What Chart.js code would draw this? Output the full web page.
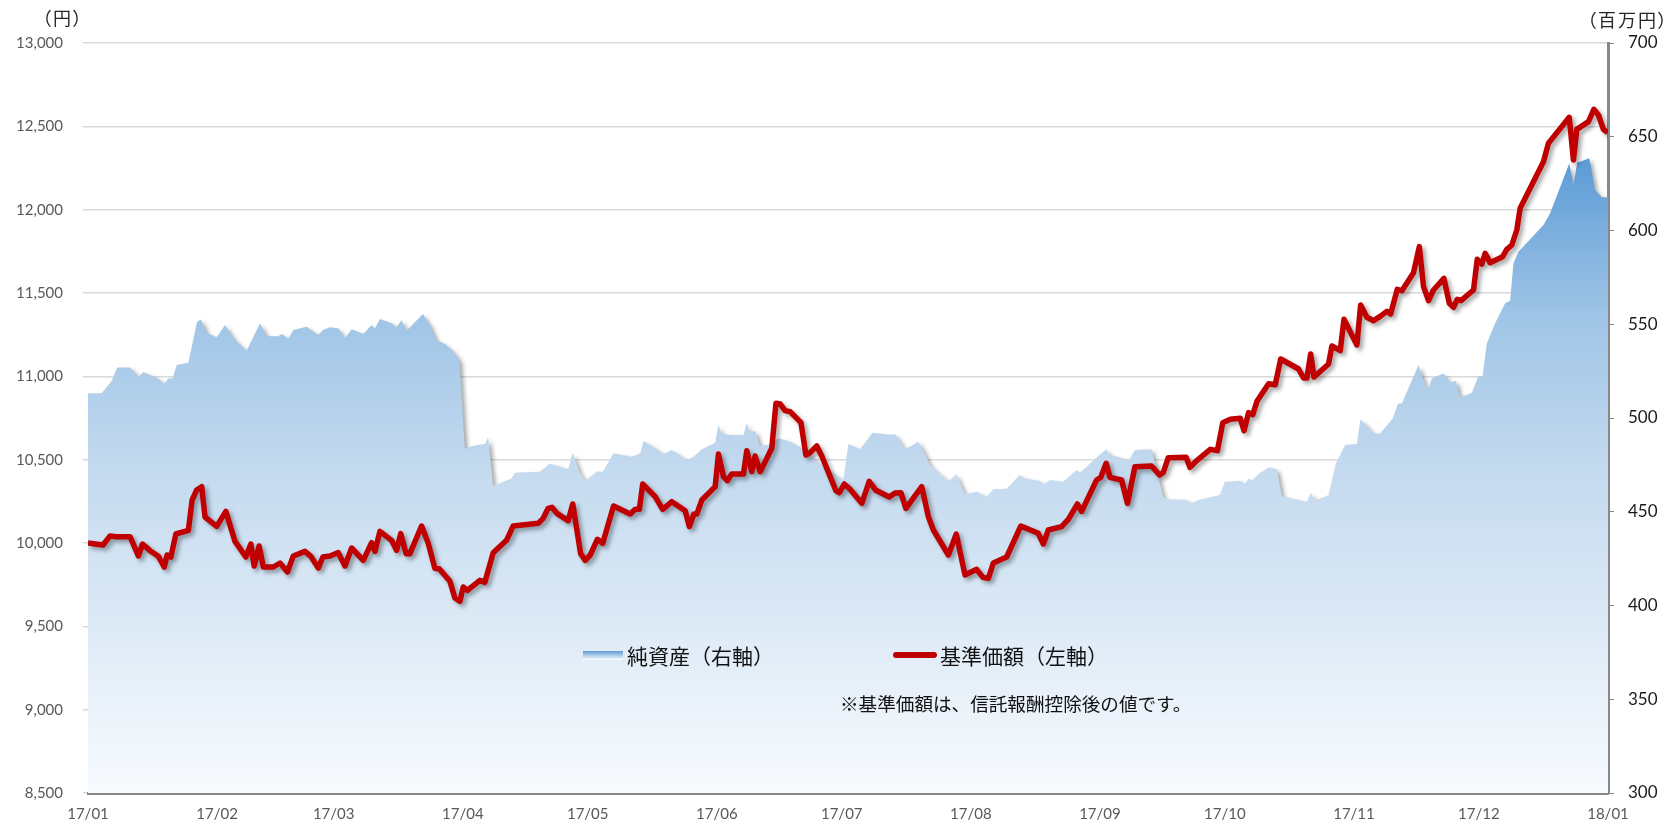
<!DOCTYPE html>
<html lang="ja">
<head>
<meta charset="utf-8">
<title>基準価額・純資産の推移</title>
<script src="https://cdn.jsdelivr.net/npm/chart.js@4.4.1/dist/chart.umd.min.js"></script>
<style>
  body { margin: 0; background: #ffffff; }
  #wrap { position: relative; width: 1676px; height: 826px; }
  .unit { position: absolute; white-space: nowrap; font-family: "Noto Sans CJK JP", sans-serif; color: #262626; font-size: 18px; letter-spacing: 2px; font-feature-settings: "palt"; }
  .legend { position: absolute; white-space: nowrap; font-family: "Noto Sans CJK JP", sans-serif; color: #111111; font-size: 21px; line-height: 24px; }
  .swatch { position: absolute; }
  .note { position: absolute; white-space: nowrap; font-family: "Noto Sans CJK JP", sans-serif; color: #111111; font-size: 18.6px; line-height: 24px; }
</style>
</head>
<body>
<div id="wrap">
  <canvas id="navChart"></canvas>
  <div class="unit" style="left:42px; top:4px;">（円）</div>
  <div class="unit" style="right:7px; top:6px;">（百万円）</div>
  <div class="swatch" style="left:583px; top:651px; width:40px; height:9px; background:linear-gradient(#5b9bd5, #ffffff);"></div>
  <div class="legend" style="left:627px; top:643px;">純資産（右軸）</div>
  <div class="swatch" style="left:893px; top:652px; width:44px; height:6px; background:#c00000; border-radius:3px;"></div>
  <div class="legend" style="left:940px; top:643px;">基準価額（左軸）</div>
  <div class="note" style="left:840px; top:691px;">※基準価額は、信託報酬控除後の値です。</div>
</div>
<script>
// month ticks, as days from 2017/01/01
const monthDays = [0, 31, 59, 90, 120, 151, 181, 212, 243, 273, 304, 334, 365];
const monthLabels = ["17/01", "17/02", "17/03", "17/04", "17/05", "17/06", "17/07", "17/08", "17/09", "17/10", "17/11", "17/12", "18/01"];

// 基準価額 (円, left axis)
const navDays = [0, 3.6, 5.3, 6.9, 10.1, 12.1, 13.1, 14.9, 16.9, 18.3,
  19.0, 19.9, 21.1, 24.1, 25.0, 26.1, 27.3, 28.1, 30.9, 33.1,
  35.3, 37.9, 39.1, 39.9, 41.1, 42.1, 44.5, 46.1, 47.9, 49.3,
  52.1, 53.5, 55.3, 56.4, 58.1, 60.1, 61.7, 63.3, 66.1, 68.1,
  68.9, 70.1, 72.9, 74.1, 75.1, 76.4, 77.3, 80.1, 81.7, 83.3,
  84.4, 86.9, 88.1, 89.3, 90.1, 91.1, 94.1, 95.3, 97.3, 100.5,
  102.1, 108.1, 109.3, 110.5, 111.4, 112.6, 115.3, 116.4, 118.3, 119.4,
  120.6, 122.3, 123.6, 126.2, 130.2, 131.4, 132.4, 133.2, 136.2, 138.0,
  140.2, 143.4, 144.4, 145.5, 146.2, 147.4, 150.6, 151.4, 152.6, 153.5,
  154.6, 157.4, 158.2, 159.4, 160.2, 161.4, 164.2, 165.2, 166.2, 167.4,
  168.6, 171.2, 172.4, 173.4, 175.0, 176.2, 179.6, 180.4, 181.6, 183.0,
  185.8, 187.6, 189.2, 192.4, 193.8, 195.2, 196.4, 200.2, 201.8, 203.0,
  206.6, 208.5, 210.6, 213.4, 214.9, 216.2, 217.4, 220.6, 224.0, 228.2,
  229.4, 230.6, 233.8, 235.4, 237.6, 238.6, 242.2, 243.2, 244.5, 245.4,
  248.2, 249.6, 251.4, 255.4, 257.3, 258.2, 259.4, 263.7, 264.6, 266.6,
  269.5, 271.2, 272.5, 274.3, 276.7, 277.6, 278.7, 279.7, 280.7, 283.5,
  285.1, 286.4, 290.7, 291.9, 292.7, 293.6, 294.4, 297.9, 298.7, 300.7,
  301.6, 304.7, 305.6, 307.1, 308.7, 310.3, 311.9, 312.8, 314.4, 315.5,
  318.3, 319.7, 320.7, 321.9, 323.1, 325.6, 326.9, 327.9, 328.8, 329.7,
  332.7, 333.6, 334.7, 335.5, 336.7, 339.7, 340.7, 341.9, 343.1, 343.9,
  349.5, 350.7, 355.7, 356.7, 357.5, 360.3, 361.6, 362.7, 363.9, 364.9];
const navValues = [10000, 9988, 10042, 10038, 10038, 9922, 9994, 9954, 9920, 9856,
  9928, 9916, 10054, 10076, 10258, 10318, 10338, 10156, 10100, 10190,
  10010, 9916, 9994, 9862, 9982, 9856, 9856, 9880, 9826, 9922,
  9950, 9920, 9850, 9916, 9922, 9942, 9862, 9970, 9896, 10002,
  9950, 10070, 10016, 9956, 10056, 9936, 9936, 10102, 9998, 9848,
  9844, 9770, 9670, 9650, 9736, 9716, 9776, 9764, 9942, 10016,
  10102, 10118, 10148, 10208, 10214, 10178, 10134, 10234, 9936, 9896,
  9928, 10022, 9998, 10222, 10174, 10202, 10202, 10354, 10278, 10202,
  10248, 10194, 10098, 10174, 10174, 10258, 10338, 10534, 10398, 10374,
  10414, 10414, 10554, 10428, 10522, 10428, 10568, 10838, 10834, 10794,
  10788, 10722, 10528, 10542, 10582, 10522, 10314, 10302, 10354, 10322,
  10238, 10370, 10316, 10276, 10300, 10302, 10208, 10338, 10158, 10078,
  9928, 10054, 9808, 9842, 9794, 9788, 9880, 9916, 10102, 10058,
  9994, 10078, 10098, 10142, 10234, 10190, 10378, 10394, 10478, 10394,
  10378, 10238, 10458, 10462, 10408, 10422, 10512, 10514, 10454, 10502,
  10562, 10554, 10722, 10742, 10748, 10674, 10782, 10770, 10850, 10956,
  10950, 11104, 11044, 10990, 10990, 11134, 10996, 11074, 11182, 11154,
  11342, 11188, 11428, 11354, 11334, 11360, 11390, 11374, 11522, 11514,
  11622, 11778, 11538, 11454, 11518, 11588, 11438, 11414, 11462, 11454,
  11518, 11702, 11674, 11738, 11682, 11718, 11762, 11788, 11878, 12008,
  12288, 12398, 12554, 12298, 12482, 12528, 12602, 12568, 12482, 12462];

// 純資産 (百万円, right axis)
const assetDays = [0, 3.3, 5.7, 7.0, 10.1, 12.1, 13.3, 16.9, 18.3, 19.3,
  20.3, 21.3, 24.1, 26.2, 27.1, 28.5, 30.9, 32.9, 35.3, 38.1,
  41.3, 42.9, 45.7, 46.5, 48.1, 49.3, 52.5, 55.3, 56.4, 58.1,
  60.1, 61.7, 63.3, 66.1, 68.1, 68.9, 70.1, 72.9, 74.1, 75.3,
  76.5, 80.4, 82.1, 83.6, 85.7, 87.6, 89.2, 90.5, 93.3, 95.3,
  96.1, 97.3, 99.7, 101.7, 102.5, 108.5, 110.9, 115.3, 116.4, 118.0,
  119.4, 122.2, 123.6, 126.2, 130.6, 132.6, 133.4, 136.6, 138.2, 140.2,
  143.8, 145.4, 147.4, 150.6, 151.4, 152.2, 154.6, 157.4, 158.2, 159.0,
  160.2, 161.4, 163.8, 165.8, 168.6, 171.0, 173.4, 176.5, 181.4, 182.6,
  185.4, 188.4, 193.0, 193.8, 196.2, 199.4, 200.6, 202.2, 206.6, 208.5,
  210.6, 213.4, 215.8, 217.4, 220.6, 223.7, 225.0, 228.2, 229.8, 230.9,
  234.2, 237.4, 238.2, 242.2, 244.5, 245.4, 247.8, 249.8, 251.4, 255.4,
  258.2, 259.4, 263.4, 265.0, 266.6, 271.8, 273.0, 276.7, 277.9, 278.7,
  279.5, 281.1, 283.5, 285.5, 286.7, 290.7, 292.7, 293.6, 294.7, 297.9,
  299.7, 301.9, 304.7, 305.6, 308.7, 310.3, 313.3, 314.6, 315.5, 319.5,
  320.7, 321.9, 322.7, 325.5, 327.1, 328.5, 329.5, 332.3, 333.9, 334.9,
  335.9, 337.9, 340.3, 341.5, 342.3, 343.5, 349.5, 351.1, 355.7, 356.7,
  357.6, 360.5, 361.9, 363.5, 365];
const assetValues = [513.2, 513.2, 519.9, 527, 527, 522, 524.5, 521, 518.1, 521.2,
  521, 528.3, 529.5, 551.4, 552.6, 545.5, 543, 549.6, 541.6, 535.9,
  550.5, 543.6, 543.6, 544.8, 542.3, 547, 548.7, 544.3, 547, 548.4,
  547.8, 542.5, 547.3, 544.8, 549.6, 547.8, 552.8, 550.5, 548.4, 552.3,
  546.6, 555.5, 549.6, 541.6, 539.5, 535.9, 530.9, 483.8, 485.6, 486.1,
  489.7, 463.7, 466, 467.8, 470.8, 471.4, 475.8, 472.7, 481.5, 471.4,
  466.6, 471.5, 471.4, 481.2, 479.4, 481.2, 487.7, 483.3, 480.8, 482.9,
  477.6, 479.4, 483.3, 486.8, 496.1, 491.5, 490.9, 490.9, 497.2, 492.2,
  493.2, 485, 486, 489.2, 487.4, 484.4, 480, 474, 466.9, 486.1,
  483.3, 492.2, 490.9, 491.5, 483.3, 487.4, 482.6, 474.9, 466, 470.1,
  459.5, 460.7, 458, 462, 462.3, 469.6, 467.8, 466.6, 464.8, 466.9,
  466, 472.3, 470.8, 479, 483.3, 480.3, 479, 477, 482.9, 483.3,
  458, 456.6, 456.6, 454.5, 456.3, 458.9, 466, 466.6, 464.8, 467.8,
  466.6, 470.1, 473.7, 472.6, 458.4, 456.3, 455.4, 460.2, 455.9, 458.9,
  476.2, 485.6, 486.1, 499.3, 491.8, 491.8, 499.8, 507.8, 507.8, 528.3,
  520.3, 514.9, 521.2, 523.8, 518.8, 519.9, 511, 513.5, 522.4, 522.1,
  539.8, 550.5, 561.2, 562.6, 582.5, 588.7, 602.9, 609.2, 635.8, 624.3,
  636.2, 638.5, 621.6, 617.7, 617.7];

function toPoints(xs, ys) {
  return xs.map((x, i) => ({ x: x, y: ys[i] }));
}

// vertical blue gradient for the net asset area
function areaFill(context) {
  const chart = context.chart;
  const area = chart.chartArea;
  if (!area) return "#9dc3e6";
  const g = chart.ctx.createLinearGradient(0, area.top, 0, area.bottom);
  g.addColorStop(0, "#4a8ccf");
  g.addColorStop(0.15, "#5a9ad5");
  g.addColorStop(0.36, "#9ec4e6");
  g.addColorStop(0.57, "#c4daef");
  g.addColorStop(1, "#f8fbfe");
  return g;
}

// soft drop shadow under the area and the line
const shadowPlugin = {
  id: "shadow",
  beforeDatasetsDraw(chart) {
    const ctx = chart.ctx;
    ctx.save();
    ctx.shadowColor = "rgba(0, 0, 0, 0.35)";
    ctx.shadowBlur = 4;
    ctx.shadowOffsetX = 3;
    ctx.shadowOffsetY = 3;
  },
  afterDatasetsDraw(chart) {
    chart.ctx.restore();
  },
};

const canvas = document.getElementById("navChart");
canvas.width = 1676;
canvas.height = 826;

new Chart(canvas.getContext("2d"), {
  type: "line",
  data: {
    datasets: [
      {
        label: "基準価額（左軸）",
        data: toPoints(navDays, navValues),
        yAxisID: "y",
        borderColor: "#c00000",
        borderWidth: 5.5,
        borderJoinStyle: "round",
        pointRadius: 0,
        tension: 0,
        fill: false,
        order: 0,
      },
      {
        label: "純資産（右軸）",
        data: toPoints(assetDays, assetValues),
        yAxisID: "y1",
        borderWidth: 0,
        borderColor: "rgba(0,0,0,0)",
        backgroundColor: areaFill,
        pointRadius: 0,
        tension: 0,
        fill: "start",
        order: 1,
      },
    ],
  },
  options: {
    responsive: false,
    animation: false,
    events: [],
    layout: { padding: { top: 43, left: 0, right: 0, bottom: 0 } },
    plugins: {
      legend: { display: false },
      tooltip: { enabled: false },
    },
    scales: {
      x: {
        type: "linear",
        min: 0,
        max: 365,
        afterBuildTicks: (scale) => {
          scale.ticks = monthDays.map((v) => ({ value: v }));
        },
        afterFit: (scale) => {
          scale.height = 33;
        },
        grid: { display: false, drawTicks: false },
        border: { display: true, color: "#888888", width: 3 },
        ticks: {
          autoSkip: false,
          maxRotation: 0,
          padding: 12,
          color: "#595959",
          font: { family: "Lato", size: 15 },
          callback: (value, index) => monthLabels[index],
        },
      },
      y: {
        position: "left",
        min: 8500,
        max: 13000,
        afterFit: (scale) => {
          scale.width = 88;
        },
        grid: { color: "#d9d9d9", lineWidth: 1.5, tickLength: 5 },
        border: { display: false },
        ticks: {
          stepSize: 500,
          padding: 20,
          color: "#595959",
          font: { family: "Lato", size: 15 },
          callback: (value) => value.toLocaleString("en-US"),
        },
      },
      y1: {
        position: "right",
        min: 300,
        max: 700,
        afterFit: (scale) => {
          scale.width = 68;
        },
        grid: { drawOnChartArea: false, color: "#888888", tickLength: 6 },
        border: { display: true, color: "#888888", width: 3 },
        ticks: {
          stepSize: 50,
          padding: 14,
          color: "#1a1a1a",
          font: { family: "Lato", size: 17 },
        },
      },
    },
  },
  plugins: [shadowPlugin],
});
</script>
</body>
</html>
